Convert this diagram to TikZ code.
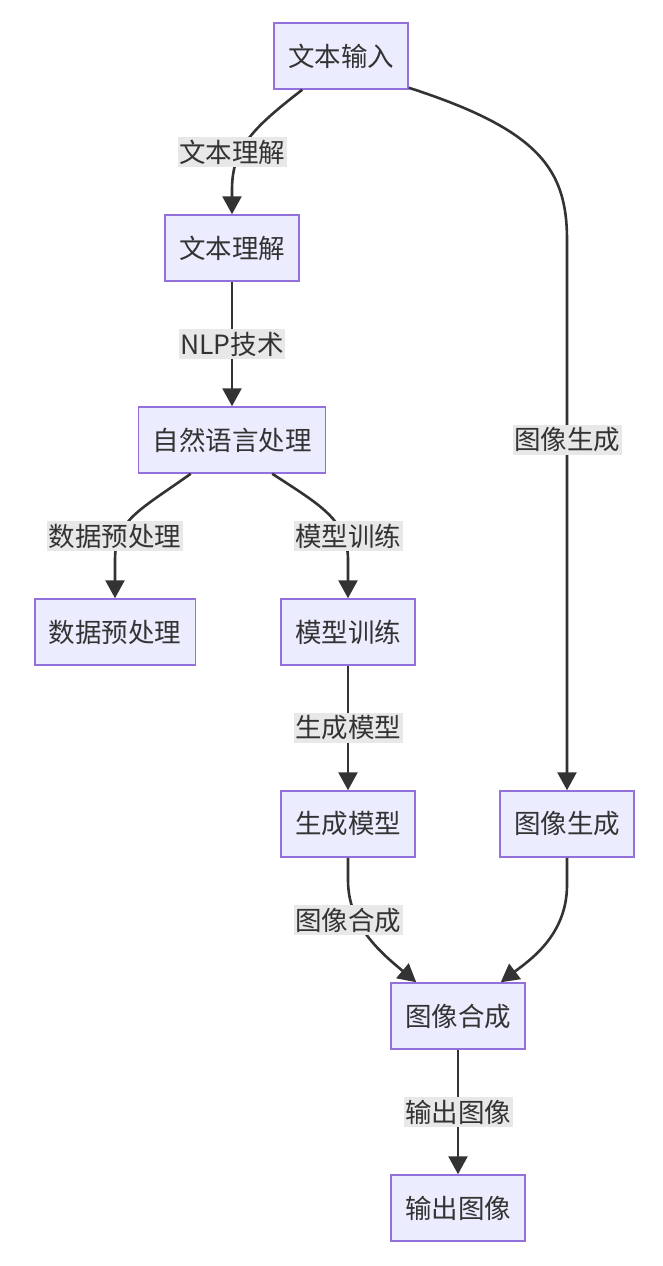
\documentclass[tikz,border=0pt]{standalone}
\usepackage{fontspec}
\setmainfont{Noto Sans CJK SC}
\usetikzlibrary{arrows.meta}
\definecolor{boxfill}{HTML}{ECECFF}
\definecolor{boxline}{HTML}{9370DB}
\definecolor{ink}{HTML}{333333}
\definecolor{labelbg}{HTML}{E8E8E8}
\begin{document}
\begin{tikzpicture}[x=1pt, y=-1pt,
  step box/.style={draw=boxline, fill=boxfill, line width=1.5pt, minimum height=66pt, inner xsep=14pt, text=ink, font=\fontsize{26.5pt}{30pt}\selectfont},
  edge label/.style={fill=labelbg, inner xsep=1.5pt, inner ysep=3pt, text=ink, font=\fontsize{26.5pt}{30pt}\selectfont},
  flow/.style={draw=ink, line width=2.6pt, -{Triangle[length=18pt, width=19pt]}}]
\useasboundingbox (0,0) rectangle (662,1266);

\node (input) at (341,56) [step box] {文本输入};
\node (understand) at (232,248) [step box] {文本理解};
\node (nlp) at (232,440) [step box] {自然语言处理};
\node (prep) at (115,632) [step box] {数据预处理};
\node (train) at (348,632) [step box] {模型训练};
\node (genmodel) at (348,824) [step box] {生成模型};
\node (imggen) at (567,824) [step box] {图像生成};
\node (compose) at (458,1016) [step box] {图像合成};
\node (output) at (458,1208) [step box] {输出图像};

\draw[flow] ([xshift=29pt]input.south west) .. controls (250,130) and (232,150) .. (232,190) -- (understand.north);
\draw[flow] ([yshift=2pt]input.south east) .. controls (540,130) and (567,170) .. (567,240) -- (imggen.north);
\draw[flow] (understand.south) -- (nlp.north);
\draw[flow] ([xshift=53pt]nlp.south west) .. controls (140,510) and (115,520) .. (115,560) -- (prep.north);
\draw[flow] ([xshift=-54pt]nlp.south east) .. controls (320,505) and (348,520) .. (348,560) -- (train.north);
\draw[flow] (train.south) -- (genmodel.north);
\draw[flow] (genmodel.south) -- (348,880) .. controls (348,925) and (380,952) .. ([xshift=26pt]compose.north west);
\draw[flow] (imggen.south) -- (567,885) .. controls (567,935) and (530,960) .. ([xshift=-25pt]compose.north east);
\draw[flow] (compose.south) -- (output.north);

\node (l1) at (232,152) [edge label] {文本理解};
\node (l2) at (232,344) [edge label] {NLP技术};
\node (l3) at (115,536) [edge label] {数据预处理};
\node (l4) at (348,536) [edge label] {模型训练};
\node (l5) at (567,440) [edge label] {图像生成};
\node (l6) at (348,728) [edge label] {生成模型};
\node (l7) at (348,920) [edge label] {图像合成};
\node (l8) at (458,1112) [edge label] {输出图像};
\end{tikzpicture}
\end{document}
